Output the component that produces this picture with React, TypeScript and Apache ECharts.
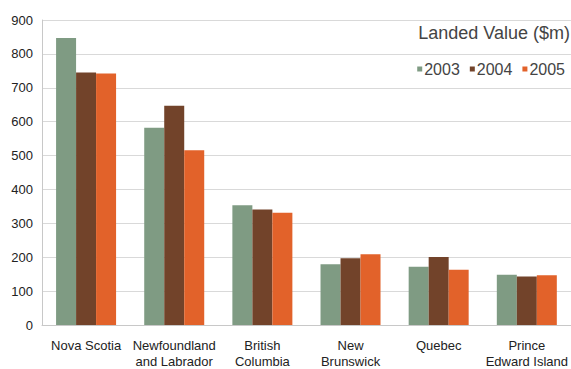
import React, { useEffect, useRef } from "react";
import * as echarts from "echarts";

const categories = [
  "Nova Scotia",
  "Newfoundland\nand Labrador",
  "British\nColumbia",
  "New\nBrunswick",
  "Quebec",
  "Prince\nEdward Island",
];
const years = ["2003", "2004", "2005"];
const values2003 = [847, 582, 353, 179, 172, 148];
const values2004 = [745, 647, 341, 197, 201, 143];
const values2005 = [742, 516, 331, 209, 163, 147];
const colors = ["#7f9b83", "#72432a", "#e2622a"];
const FONT = "'Liberation Sans', Arial, sans-serif";

export default function App() {
  const ref = useRef<HTMLDivElement>(null);
  useEffect(() => {
    if (!ref.current) return;
    const chart = echarts.init(ref.current, undefined, { renderer: "svg" });
    const seriesData = [values2003, values2004, values2005];
    chart.setOption({
      animation: false,
      backgroundColor: "#ffffff",
      textStyle: { fontFamily: FONT },
      title: {
        text: "Landed Value ($m)",
        right: 1,
        top: 24,
        padding: 0,
        textStyle: { fontFamily: FONT, fontSize: 18, fontWeight: "normal", color: "#444" },
      },
      legend: {
        data: years,
        right: 6,
        top: 61,
        padding: 0,
        icon: "rect",
        itemWidth: 5,
        itemHeight: 5,
        itemGap: 10,
        textStyle: { fontFamily: FONT, fontSize: 16, color: "#444", padding: [0, 0, 0, -3] },
      },
      grid: { left: 42, right: 0, top: 20, bottom: 44, containLabel: false },
      xAxis: {
        type: "category",
        data: categories,
        axisLine: { show: true, lineStyle: { color: "#c8c8c8", width: 1 } },
        axisTick: { show: false },
        axisLabel: {
          interval: 0,
          fontFamily: FONT,
          fontSize: 13,
          lineHeight: 16,
          color: "#222",
          margin: 12,
        },
      },
      yAxis: {
        type: "value",
        min: 0,
        max: 900,
        interval: 100,
        axisLine: { show: true, lineStyle: { color: "#c8c8c8", width: 1 } },
        axisTick: { show: false },
        axisLabel: { fontFamily: FONT, fontSize: 13, color: "#222", margin: 9 },
        splitLine: { lineStyle: { color: "#d9d9d9", width: 1 } },
      },
      series: years.map((y, i) => ({
        name: y,
        type: "bar",
        data: seriesData[i],
        barWidth: 20,
        barGap: "0%",
        itemStyle: { color: colors[i] },
      })),
    });
    return () => chart.dispose();
  }, []);
  return (
    <div
      ref={ref}
      style={{ position: "fixed", left: 0, top: 0, width: 571, height: 369, background: "#fff" }}
    />
  );
}
